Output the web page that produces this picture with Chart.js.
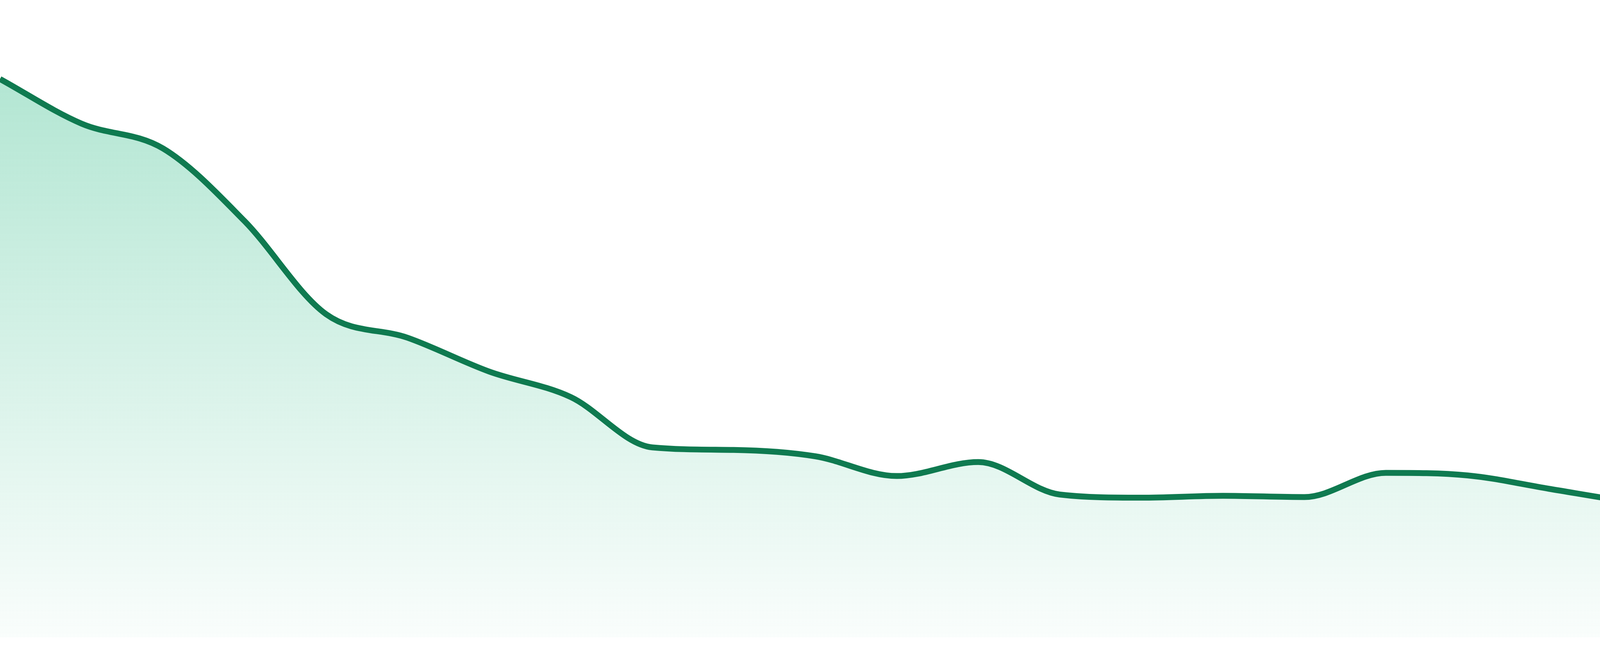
<!DOCTYPE html>
<html>
<head>
<meta charset="utf-8">
<title>Trend</title>
<script src="https://cdn.jsdelivr.net/npm/chart.js@4.4.1/dist/chart.umd.min.js"></script>
<style>
	html, body { margin: 0; padding: 0; background: #fff; }
	#wrap { width: 4800px; height: 1680px; position: relative; }
</style>
</head>
<body>
<div id="wrap"><canvas id="line-chartcanvas"></canvas></div>
<script>
// one point per period (0..100 of the plot height)
var labels = ["1", "2", "3", "4", "5", "6", "7", "8", "9", "10", "11", "12",
	"13", "14", "15", "16", "17", "18", "19", "20", "21", "22", "23", "24"];
var values = [87.6, 80.6, 76.7, 65.3, 50.7, 47.0, 41.7, 37.7, 29.8, 29.4, 28.4, 25.3,
	27.5, 22.4, 21.9, 22.2, 22.0, 25.8, 25.4, 23.3, 21.2, 19.4, 16.3, 18.6];
var yMin = 0;
var yMax = 100;

var ctx = document.getElementById("line-chartcanvas");

function areaFill(context) {
	var chart = context.chart;
	var area = chart.chartArea;
	if (!area) {
		return "rgba(17,177,117,0.2)";
	}
	var g = chart.ctx.createLinearGradient(0, area.top, 0, area.bottom);
	g.addColorStop(0, "rgba(17,177,117,0.36)");
	g.addColorStop(1, "rgba(17,177,117,0.025)");
	return g;
}

var chart = new Chart(ctx, {
	type: "line",
	data: {
		labels: labels,
		datasets: [{
			label: "Trend",
			data: values,
			borderColor: "#0f7a50",
			borderWidth: 15,
			backgroundColor: areaFill,
			fill: "start",
			cubicInterpolationMode: "monotone",
			pointRadius: 0,
			pointHoverRadius: 0
		}]
	},
	options: {
		responsive: true,
		maintainAspectRatio: false,
		devicePixelRatio: 1,
		animation: false,
		layout: {
			padding: { top: 0, left: 0, right: 0, bottom: 48 }
		},
		plugins: {
			legend: { display: false },
			tooltip: { enabled: false }
		},
		scales: {
			x: { display: false, offset: false },
			y: { display: false, min: yMin, max: yMax }
		}
	}
});
</script>
</body>
</html>
